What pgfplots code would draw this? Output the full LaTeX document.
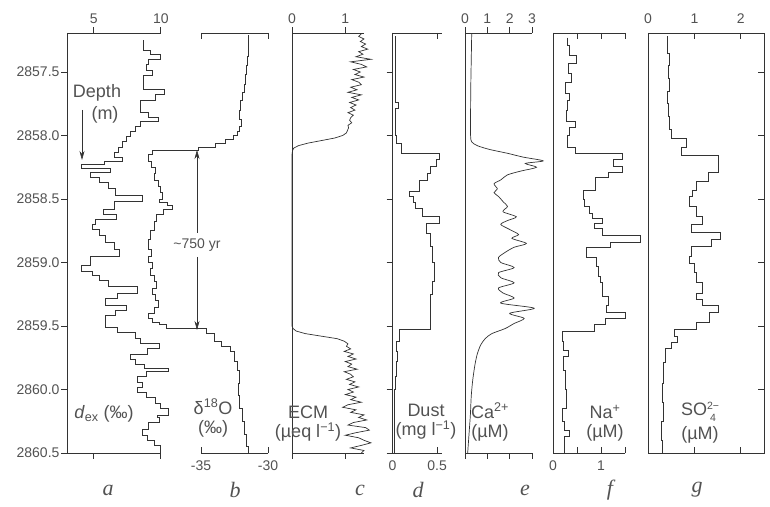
\documentclass[border=0pt]{standalone}
\usepackage{fontspec}
\setmainfont{Liberation Sans}
\newfontfamily\lserif{Liberation Serif}
\usepackage{pgfplots}
\pgfplotsset{compat=1.18}
\usetikzlibrary{arrows.meta}
\definecolor{ink}{gray}{0.2}
\definecolor{txt}{gray}{0.32}
\pgfplotsset{
  panel/.style={scale only axis, height=420pt, ymin=2857.193, ymax=2860.5, y dir=reverse,
    clip=false, anchor=south west,
    axis line style={ink, line width=0.7pt}, tick style={ink, line width=0.7pt},
    major tick length=6pt,
    tick label style={font=\fontsize{14}{16}\selectfont, text=txt},
    axis x line*=box, axis y line*=left, ytick=\empty},
  curve/.style={ink, line width=0.7pt},
  step/.style={ink, line width=0.75pt, const plot mark right},
  depthticks/.style={ytick={2857.5,2858,2858.5,2859,2859.5,2860,2860.5}},
}
\newcommand{\lab}{\fontsize{18}{19}\selectfont}
\tikzset{lbl/.style={font=\lab, text=txt, align=center, inner sep=0pt}}
\begin{document}
\begin{tikzpicture}[x=1pt,y=1pt]
\path[use as bounding box] (0,0) rectangle (770,506);

% a: d_ex
\begin{axis}[panel, at={(67pt,53pt)}, width=93.8pt, xmin=3, xmax=10,
  xtick={5,10}, xticklabels={5,10}, xticklabel pos=upper, xtick align=outside,
  depthticks, yticklabels={2857.5,2858.0,2858.5,2859.0,2859.5,2860.0,2860.5}, ytick align=outside,
  yticklabel style={xshift=2pt}]
\addplot[step] table[x=v,y=d] {
d v
2857.25 8.7
2857.33 9.2
2857.36 9.95
2857.40 9.1
2857.44 8.9
2857.49 9.4
2857.53 8.7
2857.64 10.3
2857.68 9.6
2857.72 8.5
2857.82 9.1
2857.86 9.8
2857.89 8.5
2857.93 8.1
2857.97 7.75
2858.01 7.4
2858.05 7.1
2858.09 6.8
2858.13 6.5
2858.17 7.1
2858.20 5.8
2858.23 4.1
2858.26 6.2
2858.29 4.75
2858.33 5.4
2858.37 6.1
2858.42 6.6
2858.47 8.6
2858.52 6.5
2858.58 5.7
2858.62 6.7
2858.66 5.1
2858.70 4.9
2858.74 5.4
2858.79 5.9
2858.84 6.5
2858.90 6.9
2858.95 4.75
2859.02 4.1
2859.07 4.9
2859.10 5.4
2859.14 6.1
2859.19 8.25
2859.24 6.75
2859.28 5.9
2859.34 7.4
2859.38 6.6
2859.42 5.9
2859.51 6.75
2859.55 8.1
2859.60 8.5
2859.64 9.9
2859.68 9.0
2859.72 7.75
2859.76 8.1
2859.80 8.75
2859.83 10.6
2859.86 8.9
2859.90 8.25
2859.94 8.6
2859.98 8.25
2860.02 8.9
2860.06 9.6
2860.11 10.0
2860.15 10.6
2860.20 9.75
2860.22 9.9
2860.26 9.1
2860.31 8.6
2860.36 9.0
2860.40 9.5
2860.44 10.0
2860.50 10.0
};
\end{axis}

% b: d18O
\begin{axis}[panel, at={(201pt,53pt)}, width=67pt, xmin=-35, xmax=-30,
  axis y line=none, xtick={-35,-30}, xticklabels={-35,-30}, xticklabel pos=lower,
  xtick align=inside, xticklabel style={yshift=-4pt}]
\addplot[step] table[x=v,y=d] {
d v
2857.21 -31.45
2857.27 -31.5
2857.33 -31.45
2857.38 -31.55
2857.45 -31.6
2857.52 -31.7
2857.60 -31.75
2857.66 -31.9
2857.72 -32.05
2857.80 -32.1
2857.87 -32.0
2857.93 -32.15
2857.97 -32.3
2858.00 -32.6
2858.03 -33.2
2858.06 -33.9
2858.09 -35.2
2858.12 -38.6
2858.15 -38.9
2858.20 -38.7
2858.25 -38.4
2858.30 -38.5
2858.35 -38.2
2858.40 -38.0
2858.45 -37.9
2858.50 -38.1
2858.53 -37.5
2858.55 -37.1
2858.58 -37.8
2858.62 -38.3
2858.68 -38.5
2858.75 -38.8
2858.82 -38.9
2858.90 -38.7
2858.95 -38.9
2859.00 -38.6
2859.05 -38.8
2859.10 -38.5
2859.15 -38.3
2859.20 -38.6
2859.25 -38.4
2859.30 -38.2
2859.35 -38.5
2859.40 -38.9
2859.44 -38.6
2859.47 -38.1
2859.49 -37.6
2859.52 -34.6
2859.56 -34.0
2859.62 -33.5
2859.66 -32.8
2859.70 -32.5
2859.78 -32.3
2859.85 -32.15
2859.95 -32.2
2860.05 -32.1
2860.15 -31.9
2860.25 -31.8
2860.35 -31.6
2860.45 -31.5
2860.50 -31.45
};
\end{axis}

% c: ECM
\begin{axis}[panel, at={(292pt,53pt)}, width=72pt, xmin=0, xmax=1.35,
  xtick={0,1}, xticklabels={0,1}, xticklabel pos=upper, xtick align=outside]
\addplot[curve] table[x=v,y=d] {
d v
2857.20 1.30
2857.22 1.25
2857.24 1.35
2857.26 1.28
2857.28 1.38
2857.30 1.30
2857.32 1.42
2857.34 1.25
2857.36 1.33
2857.38 1.20
2857.40 1.48
2857.42 1.10
2857.44 1.30
2857.46 1.40
2857.48 1.15
2857.50 1.28
2857.52 1.18
2857.54 1.35
2857.56 1.12
2857.58 1.25
2857.60 1.30
2857.62 1.10
2857.64 1.22
2857.66 1.05
2857.68 1.30
2857.70 1.12
2857.72 1.25
2857.74 1.08
2857.76 1.20
2857.78 1.10
2857.80 1.18
2857.82 1.05
2857.84 1.15
2857.86 1.10
2857.88 1.08
2857.90 1.12
2857.92 1.05
2857.94 1.06
2857.96 1.04
2857.98 1.02
2858.00 0.95
2858.02 0.80
2858.04 0.55
2858.06 0.30
2858.08 0.12
2858.10 0.03
2858.12 0.01
2858.15 0
2859.50 0
2859.52 0.02
2859.54 0.08
2859.56 0.25
2859.58 0.55
2859.60 0.85
2859.62 0.98
2859.64 1.05
2859.66 1.02
2859.68 1.10
2859.70 0.98
2859.72 1.15
2859.74 1.05
2859.76 1.20
2859.78 1.00
2859.80 1.12
2859.82 1.05
2859.84 1.22
2859.86 0.98
2859.88 1.10
2859.90 1.15
2859.92 1.02
2859.94 1.18
2859.96 1.08
2859.98 1.25
2860.00 1.05
2860.02 1.15
2860.04 1.00
2860.06 1.20
2860.08 1.10
2860.10 1.30
2860.12 1.05
2860.14 0.95
2860.16 1.20
2860.18 1.10
2860.20 1.35
2860.22 1.25
2860.24 1.40
2860.26 1.15
2860.28 1.05
2860.30 1.38
2860.32 1.45
2860.34 1.20
2860.36 1.00
2860.38 1.25
2860.40 1.35
2860.42 1.48
2860.44 1.30
2860.46 1.10
2860.48 1.35
2860.50 1.30
};
\end{axis}

% d: Dust
\begin{axis}[panel, at={(392.5pt,53pt)}, width=49pt, xmin=0, xmax=0.55,
  xtick={0,0.5}, xticklabels={0,0.5}, xticklabel pos=lower, xtick align=inside,
  xticklabel style={yshift=-4pt},
  depthticks, yticklabels={}, ytick align=outside]
\addplot[step] table[x=v,y=d] {
d v
2857.22 0.03
2857.74 0.07
2857.79 0.03
2858.00 0.04
2858.06 0.10
2858.14 0.53
2858.19 0.49
2858.24 0.43
2858.30 0.39
2858.35 0.30
2858.44 0.19
2858.48 0.23
2858.53 0.26
2858.57 0.34
2858.64 0.53
2858.69 0.38
2858.77 0.42
2858.87 0.45
2859.00 0.47
2859.15 0.45
2859.25 0.43
2859.53 0.08
2859.62 0.045
2859.70 0.06
2859.78 0.04
2859.90 0.03
2860.00 0.02
2860.50 0.02
};
\end{axis}

% e: Ca
\begin{axis}[panel, at={(465pt,53pt)}, width=67pt, xmin=0, xmax=3,
  xtick={0,1,2,3}, xticklabels={0,1,2,3}, xticklabel pos=upper, xtick align=outside]
\addplot[curve, smooth, tension=0.45] table[x=v,y=d] {
d v
2857.20 0.30
2857.40 0.28
2857.60 0.26
2857.80 0.25
2858.00 0.25
2858.05 0.30
2858.08 0.55
2858.11 1.1
2858.14 1.9
2858.17 2.6
2858.20 3.5
2858.22 2.7
2858.25 3.2
2858.28 2.5
2858.31 1.9
2858.35 1.6
2858.38 1.3
2858.42 1.45
2858.45 1.3
2858.48 1.5
2858.52 1.7
2858.56 1.9
2858.60 1.7
2858.64 2.3
2858.67 1.9
2858.70 1.6
2858.74 2.0
2858.78 2.4
2858.81 2.1
2858.85 2.75
2858.88 2.2
2858.92 1.8
2858.96 1.5
2859.00 1.6
2859.04 2.2
2859.08 1.5
2859.12 1.6
2859.16 2.2
2859.20 1.5
2859.24 1.7
2859.28 2.2
2859.32 1.6
2859.36 3.1
2859.40 2.0
2859.44 2.65
2859.48 2.2
2859.52 1.8
2859.56 1.2
2859.60 0.9
2859.65 0.7
2859.72 0.55
2859.80 0.45
2859.92 0.35
2860.05 0.28
2860.20 0.24
2860.35 0.18
2860.50 0.12
};
\end{axis}

% f: Na
\begin{axis}[panel, at={(553pt,53pt)}, width=72pt, xmin=0, xmax=1.5,
  xtick={0,0.5,1,1.5}, xticklabels={0,,1,}, xticklabel pos=lower, xtick align=inside,
  xticklabel style={yshift=-4pt}]
\addplot[step] table[x=v,y=d] {
d v
2857.23 0.29
2857.29 0.35
2857.37 0.49
2857.43 0.32
2857.51 0.38
2857.58 0.25
2857.67 0.35
2857.72 0.30
2857.80 0.27
2857.89 0.46
2857.94 0.35
2858.00 0.30
2858.09 0.46
2858.14 1.45
2858.19 1.25
2858.24 1.45
2858.29 1.15
2858.33 0.88
2858.43 0.63
2858.50 0.66
2858.56 0.76
2858.61 0.82
2858.65 1.02
2858.69 0.86
2858.73 1.02
2858.79 1.81
2858.84 1.20
2858.88 0.70
2858.96 0.90
2859.03 0.95
2859.11 0.98
2859.16 1.03
2859.27 1.15
2859.34 1.12
2859.39 1.50
2859.44 1.10
2859.49 0.86
2859.54 0.20
2859.62 0.22
2859.69 0.32
2859.74 0.22
2859.85 0.25
2860.00 0.28
2860.15 0.20
2860.25 0.23
2860.32 0.35
2860.37 0.24
2860.50 0.24
};
\end{axis}

% g: SO4
\begin{axis}[panel, at={(648pt,53pt)}, width=116pt, xmin=0, xmax=2.5,
  axis y line*=box, xtick={0,1,2}, xticklabels={0,1,2}, xticklabel pos=upper,
  xtick align=inside, xticklabel style={yshift=6pt},
  depthticks, yticklabels={}, ytick pos=right, ytick align=inside]
\addplot[step] table[x=v,y=d] {
d v
2857.22 0.42
2857.35 0.45
2857.45 0.43
2857.55 0.46
2857.65 0.42
2857.75 0.44
2857.85 0.45
2857.95 0.50
2858.02 0.82
2858.09 0.71
2858.16 1.51
2858.29 1.30
2858.36 1.04
2858.43 0.96
2858.48 0.89
2858.56 1.04
2858.64 1.18
2858.70 0.93
2858.76 1.55
2858.82 1.36
2858.87 0.93
2858.95 0.89
2859.01 1.00
2859.08 1.04
2859.16 1.18
2859.24 1.04
2859.29 1.18
2859.34 1.51
2859.39 1.33
2859.47 1.04
2859.53 0.56
2859.58 0.64
2859.63 0.50
2859.68 0.38
2859.79 0.34
2859.95 0.30
2860.10 0.33
2860.25 0.28
2860.40 0.30
2860.50 0.30
};
\end{axis}

% annotations
\node[lbl] at (97,413) {Depth};
\node[lbl] at (105,391) {(m)};
\draw[ink, line width=0.6pt, -{Stealth[length=9pt,width=5pt]}] (82,396) -- (82,346);
\node[font=\fontsize{14}{16}\selectfont, text=txt] at (197,261) {\textasciitilde750 yr};
\draw[ink, line width=0.5pt, -{Stealth[length=9pt,width=5pt]}] (197,273) -- (197,356);
\draw[ink, line width=0.5pt, -{Stealth[length=9pt,width=5pt]}] (197,249) -- (197,176);

\node[lbl] at (104,92) {\textit{d}\textsubscript{ex} (‰)};
\node[lbl] at (213,88) {δ\textsuperscript{18}O\\(‰)};
\node[lbl] at (308,82) {ECM\\(µeq l\textsuperscript{−1})};
\node[lbl] at (426,84) {Dust\\(mg l\textsuperscript{−1})};
\node[lbl] at (490,84) {Ca\textsuperscript{2+}\\(µM)};
\node[lbl] at (605,83) {Na\textsuperscript{+}\\(µM)};
\node[lbl] at (700,84) {SO{\fontsize{10.5}{12}\selectfont\renewcommand{\arraystretch}{1}\begin{tabular}[c]{@{}c@{}}2−\\4\end{tabular}}\\(µM)};

\foreach \l/\x in {a/108,b/235,c/360,d/418,e/525,f/610,g/697}
  \node[font=\lserif\itshape\fontsize{22}{24}\selectfont, text=txt] at (\x,16) {\l};
\end{tikzpicture}
\end{document}
